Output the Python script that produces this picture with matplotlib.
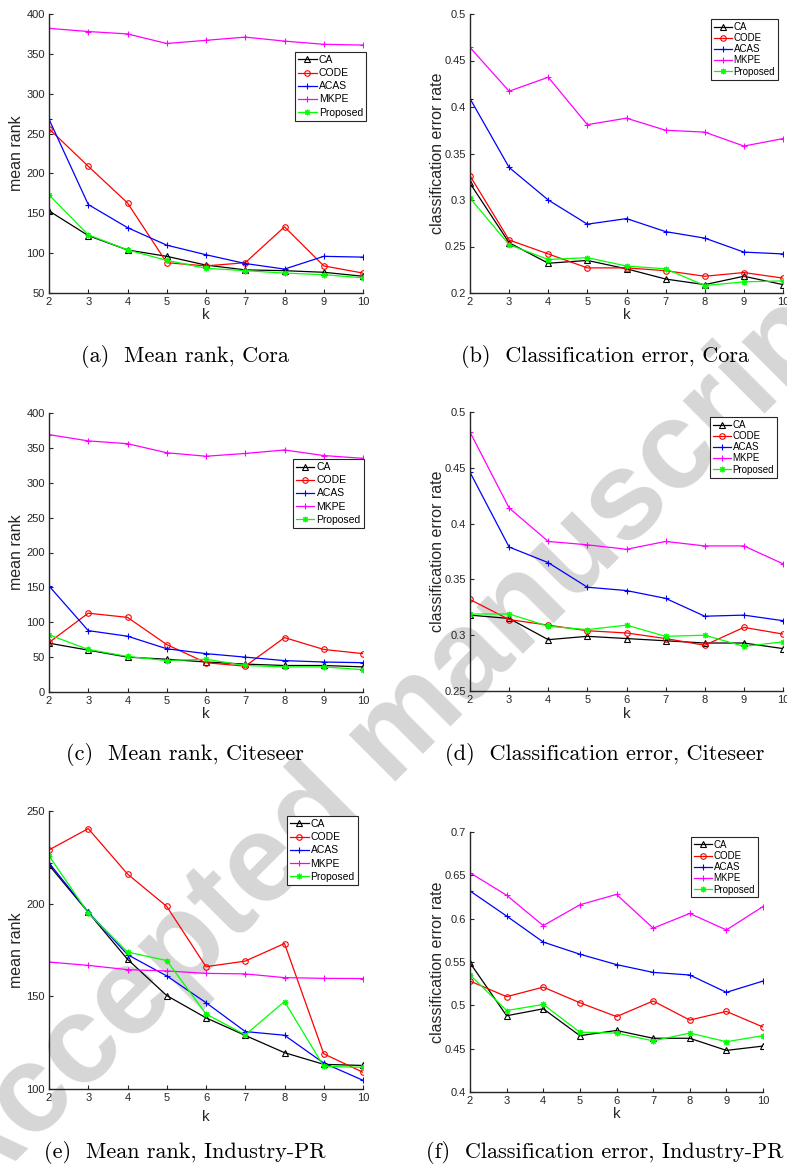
import matplotlib.pyplot as plt

plt.rcParams['font.family'] = ['Liberation Sans', 'DejaVu Sans']

k = [2, 3, 4, 5, 6, 7, 8, 9, 10]
methods = ['CA', 'CODE', 'ACAS', 'MKPE', 'Proposed']

# rows: CA, CODE, ACAS, MKPE, Proposed
cora_rank = [
    [153, 122, 104, 96, 85, 79, 78, 76, 71],
    [256, 209, 163, 88, 84, 88, 133, 84, 75],
    [268, 161, 132, 110, 98, 87, 80, 96, 95],
    [382, 378, 375, 363, 367, 371, 366, 362, 361],
    [173, 123, 104, 91, 81, 78, 75, 73, 69],
]
cora_err = [
    [0.318, 0.254, 0.232, 0.235, 0.226, 0.215, 0.209, 0.218, 0.209],
    [0.326, 0.257, 0.242, 0.227, 0.227, 0.224, 0.218, 0.222, 0.216],
    [0.409, 0.335, 0.300, 0.274, 0.280, 0.266, 0.259, 0.244, 0.242],
    [0.464, 0.417, 0.432, 0.381, 0.388, 0.375, 0.373, 0.358, 0.366],
    [0.302, 0.252, 0.236, 0.238, 0.229, 0.226, 0.208, 0.212, 0.213],
]
citeseer_rank = [
    [70, 60, 50, 47, 43, 40, 38, 38, 36],
    [71, 113, 107, 68, 42, 37, 78, 61, 55],
    [152, 88, 80, 62, 55, 50, 45, 43, 42],
    [369, 360, 356, 343, 338, 342, 347, 339, 335],
    [82, 61, 51, 45, 47, 38, 36, 36, 32],
]
citeseer_err = [
    [0.318, 0.315, 0.296, 0.299, 0.297, 0.295, 0.293, 0.293, 0.288],
    [0.332, 0.314, 0.309, 0.304, 0.302, 0.297, 0.291, 0.307, 0.301],
    [0.446, 0.379, 0.365, 0.343, 0.340, 0.333, 0.317, 0.318, 0.313],
    [0.482, 0.414, 0.384, 0.381, 0.377, 0.384, 0.380, 0.380, 0.364],
    [0.319, 0.319, 0.308, 0.305, 0.309, 0.299, 0.300, 0.290, 0.294],
]
industry_rank = [
    [220.8, 195.3, 170.0, 150.4, 138.4, 128.9, 119.6, 113.3, 112.7],
    [229.0, 240.5, 216.0, 198.5, 166.0, 169.0, 178.5, 119.0, 109.0],
    [222.0, 195.5, 172.5, 161.0, 146.6, 131.0, 129.0, 114.0, 104.7],
    [168.5, 166.7, 164.4, 163.7, 162.4, 162.1, 160.1, 159.7, 159.6],
    [225.8, 194.9, 173.9, 169.3, 140.5, 129.2, 147.2, 112.2, 111.7],
]
industry_err = [
    [0.549, 0.488, 0.496, 0.465, 0.471, 0.462, 0.462, 0.448, 0.453],
    [0.528, 0.510, 0.521, 0.503, 0.487, 0.505, 0.483, 0.493, 0.475],
    [0.632, 0.603, 0.573, 0.559, 0.547, 0.538, 0.535, 0.515, 0.528],
    [0.653, 0.627, 0.592, 0.616, 0.628, 0.589, 0.606, 0.587, 0.614],
    [0.535, 0.494, 0.501, 0.469, 0.468, 0.459, 0.468, 0.458, 0.465],
]

rank_ticks_cora = [50, 100, 150, 200, 250, 300, 350, 400]
rank_ticks_cite = [0, 50, 100, 150, 200, 250, 300, 350, 400]
rank_ticks_ind = [100, 150, 200, 250]
err_ticks_cora = ['0.2', '0.25', '0.3', '0.35', '0.4', '0.45', '0.5']
err_ticks_cite = ['0.25', '0.3', '0.35', '0.4', '0.45', '0.5']
err_ticks_ind = ['0.4', '0.45', '0.5', '0.55', '0.6', '0.65', '0.7']

captions = ['(a)  Mean rank, Cora', '(b)  Classification error, Cora',
            '(c)  Mean rank, Citeseer', '(d)  Classification error, Citeseer',
            '(e)  Mean rank, Industry-PR', '(f)  Classification error, Industry-PR']

styles = [('black', '^'), ('red', 'o'), ('blue', '+'), ('magenta', '+'), ('lime', (8, 2, 0))]
axcol = '#262626'

W, H = 787, 1167
fig = plt.figure(figsize=(W / 100, H / 100), dpi=100)

# watermark behind everything
fig.text(394 / W, 1 - 738 / H, 'Accepted manuscript', rotation=45, rotation_mode='anchor',
         ha='center', va='center', fontsize=90, fontweight='bold', color='#d6d6d6', zorder=-1)

# (data, ytick labels, ylabel, left, right, top, bottom, legend anchor, row gap, legend font, xlabel y, caption x, caption y)
panels = [
    (cora_rank, rank_ticks_cora, 'mean rank', 49, 363, 14, 293, (1.01, 0.864), 0.3, 7.5, 315, 185, 357),
    (cora_err, err_ticks_cora, 'classification error rate', 470, 783, 14, 293, (0.984, 0.982), 0.12, 7, 315, 605, 357),
    (citeseer_rank, rank_ticks_cite, 'mean rank', 49, 363, 413, 692, (1.003, 0.835), 0.3, 7.5, 714, 185, 754),
    (citeseer_err, err_ticks_cite, 'classification error rate', 470, 783, 412, 691, (0.981, 0.982), 0.12, 7, 714, 605, 754),
    (industry_rank, rank_ticks_ind, 'mean rank', 49, 363, 811, 1089, (0.984, 0.982), 0.3, 7.5, 1117, 185, 1153),
    (industry_err, err_ticks_ind, 'classification error rate', 470, 763, 832, 1092, (0.983, 0.981), 0.12, 7, 1114, 605, 1153),
]

for i, (data, yt, ylab, l, r, t, b, anchor, gap, lfs, xly, cx, cy) in enumerate(panels):
    ax = fig.add_axes([l / W, 1 - b / H, (r - l) / W, (b - t) / H])
    ax.set_facecolor('none')
    for series, name, (c, m) in zip(data, methods, styles):
        ax.plot(k, series, color=c, marker=m, lw=0.9, ms=4, mfc='none', mew=0.8, label=name)

    yvals = [float(v) for v in yt]
    ax.set_xlim(2, 10)
    ax.set_ylim(yvals[0], yvals[-1])
    ax.set_xticks(k)
    ax.set_yticks(yvals)
    ax.set_yticklabels([str(v) for v in yt])
    for s in ['top', 'right']:
        ax.spines[s].set_visible(False)
    for s in ['left', 'bottom']:
        ax.spines[s].set_color(axcol)
        ax.spines[s].set_linewidth(1.0)
    ax.tick_params(direction='in', length=3, width=0.8, colors=axcol, labelsize=8, pad=3)

    ax.set_ylabel(ylab, fontsize=11.5, color=axcol)
    ax.yaxis.set_label_coords(-32 / (r - l), 0.5)
    ax.yaxis.label.set_va('center')
    ax.set_xlabel('k', fontsize=11, color=axcol)
    ax.xaxis.set_label_coords(0.5, -(xly - b) / (b - t))
    ax.xaxis.label.set_va('center')

    leg = ax.legend(loc='upper right', bbox_to_anchor=anchor, fontsize=lfs, fancybox=False,
                    edgecolor=axcol, framealpha=1, borderpad=0.3,
                    labelspacing=gap, handlelength=1.8,
                    handletextpad=0.2, borderaxespad=0)
    leg.get_frame().set_linewidth(0.8)

    fig.text(cx / W, 1 - cy / H, captions[i], ha='center', va='center',
             fontsize=16, family='cmr10')

fig.savefig('out.png', dpi=100)
